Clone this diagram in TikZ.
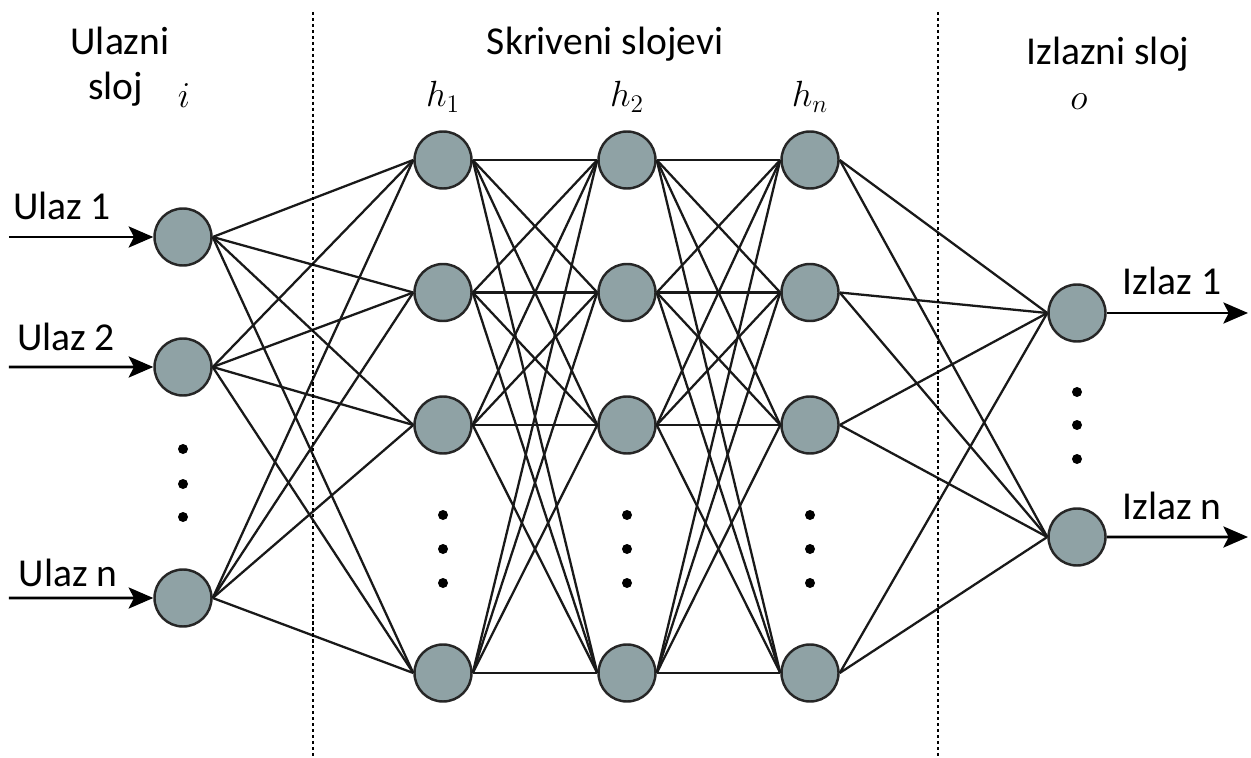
\documentclass[tikz,border=0pt]{standalone}
\usepackage{fontspec}
\setmainfont{Carlito}
\usepackage{tikz}
\usetikzlibrary{arrows.meta, positioning}
\definecolor{neurongray}{RGB}{143,162,165}

\begin{document}
\begin{tikzpicture} [node distance = 2.65cm, on grid, font=\fontsize{22.5}{27}\selectfont,
		neuron/.style = {circle, draw = black!85, line width = 1.4pt, fill = neurongray, minimum size = 1.14cm, inner sep = 0pt},
		link/.style = {line width = 1.3pt, black!90},
		io/.style = {line width = 1.5pt, -{Stealth[length = 14pt, width = 12pt, inset = 3pt]}},
		divider/.style = {line width = 1.2pt, dash pattern = on 1.8pt off 1.6pt}]
		% Frame of the picture
		\useasboundingbox (0,0) rectangle (25.02,-15.16);

		% Input layer
		\node (i1) [neuron] at (3.66,-4.74) {};
		\node (i2) [neuron, below = 2.6cm of i1] {};
		\node (i3) [neuron, below = 4.62cm of i2] {};
		\foreach \y in {-8.98,-9.68,-10.34} \fill (3.66,\y) circle (0.1cm);

		% Hidden layers
		\foreach \l/\x in {1/8.86, 2/12.54, n/16.2} {
			\node (h\l-1) [neuron] at (\x,-3.2) {};
			\node (h\l-2) [neuron, below = of h\l-1] {};
			\node (h\l-3) [neuron, below = of h\l-2] {};
			\node (h\l-4) [neuron, below = 4.96cm of h\l-3] {};
			\foreach \y in {-10.3,-10.98,-11.66} \fill (\x,\y) circle (0.1cm);
		}

		% Output layer
		\node (o1) [neuron] at (21.54,-6.26) {};
		\node (o2) [neuron, below = 4.48cm of o1] {};
		\foreach \y in {-7.84,-8.5,-9.18} \fill (21.54,\y) circle (0.1cm);

		% Connections
		\foreach \a in {1,2,3} \foreach \b in {1,...,4} \draw [link] (i\a.east) -- (h1-\b.west);
		\foreach \a in {1,...,4} \foreach \b in {1,...,4} {
			\draw [link] (h1-\a.east) -- (h2-\b.west);
			\draw [link] (h2-\a.east) -- (hn-\b.west);
		}
		\foreach \a in {1,...,4} \foreach \b in {1,2} \draw [link] (hn-\a.east) -- (o\b.west);

		% Inputs and outputs
		\coordinate (in1) at (0.18,-4.74);
		\coordinate (in2) at (0.18,-7.34);
		\coordinate (in3) at (0.18,-11.96);
		\coordinate (out1) at (24.96,-6.26);
		\coordinate (out2) at (24.96,-10.74);
		\draw [io] (in1) -- (i1);
		\draw [io] (in2) -- (i2);
		\draw [io] (in3) -- (i3);
		\draw [io] (o1) -- (out1);
		\draw [io] (o2) -- (out2);

		% Layer borders
		\coordinate (divL-top) at (6.26,-0.24);
		\coordinate (divL-bot) at (6.26,-15.16);
		\coordinate (divR-top) at (18.76,-0.24);
		\coordinate (divR-bot) at (18.76,-15.16);
		\draw [divider] (divL-top) -- (divL-bot);
		\draw [divider] (divR-top) -- (divR-bot);

		% Labels
		\node (lbl-ulazni) [anchor = base] at (2.4,-1.1) {Ulazni};
		\node (lbl-sloj) [anchor = base] at (2.31,-2.0) {sloj};
		\node (lbl-i) [anchor = base] at (3.68,-2.16) {$i$};
		\node (lbl-skriveni) [anchor = base] at (12.1,-1.1) {Skriveni slojevi};
		\node (lbl-h1) [anchor = base] at (8.86,-2.14) {$h_1$};
		\node (lbl-h2) [anchor = base] at (12.54,-2.14) {$h_2$};
		\node (lbl-hn) [anchor = base] at (16.2,-2.14) {$h_n$};
		\node (lbl-izlazni) [anchor = base] at (22.16,-1.3) {Izlazni sloj};
		\node (lbl-o) [anchor = base] at (21.58,-2.2) {$o$};

		\node (lbl-ulaz1) [anchor = base] at (1.24,-4.4) {Ulaz 1};
		\node (lbl-ulaz2) [anchor = base] at (1.32,-7.0) {Ulaz 2};
		\node (lbl-ulazn) [anchor = base] at (1.36,-11.72) {Ulaz n};
		\node (lbl-izlaz1) [anchor = base] at (23.44,-5.9) {Izlaz 1};
		\node (lbl-izlazn) [anchor = base] at (23.44,-10.38) {Izlaz n};
\end{tikzpicture}
\end{document}
